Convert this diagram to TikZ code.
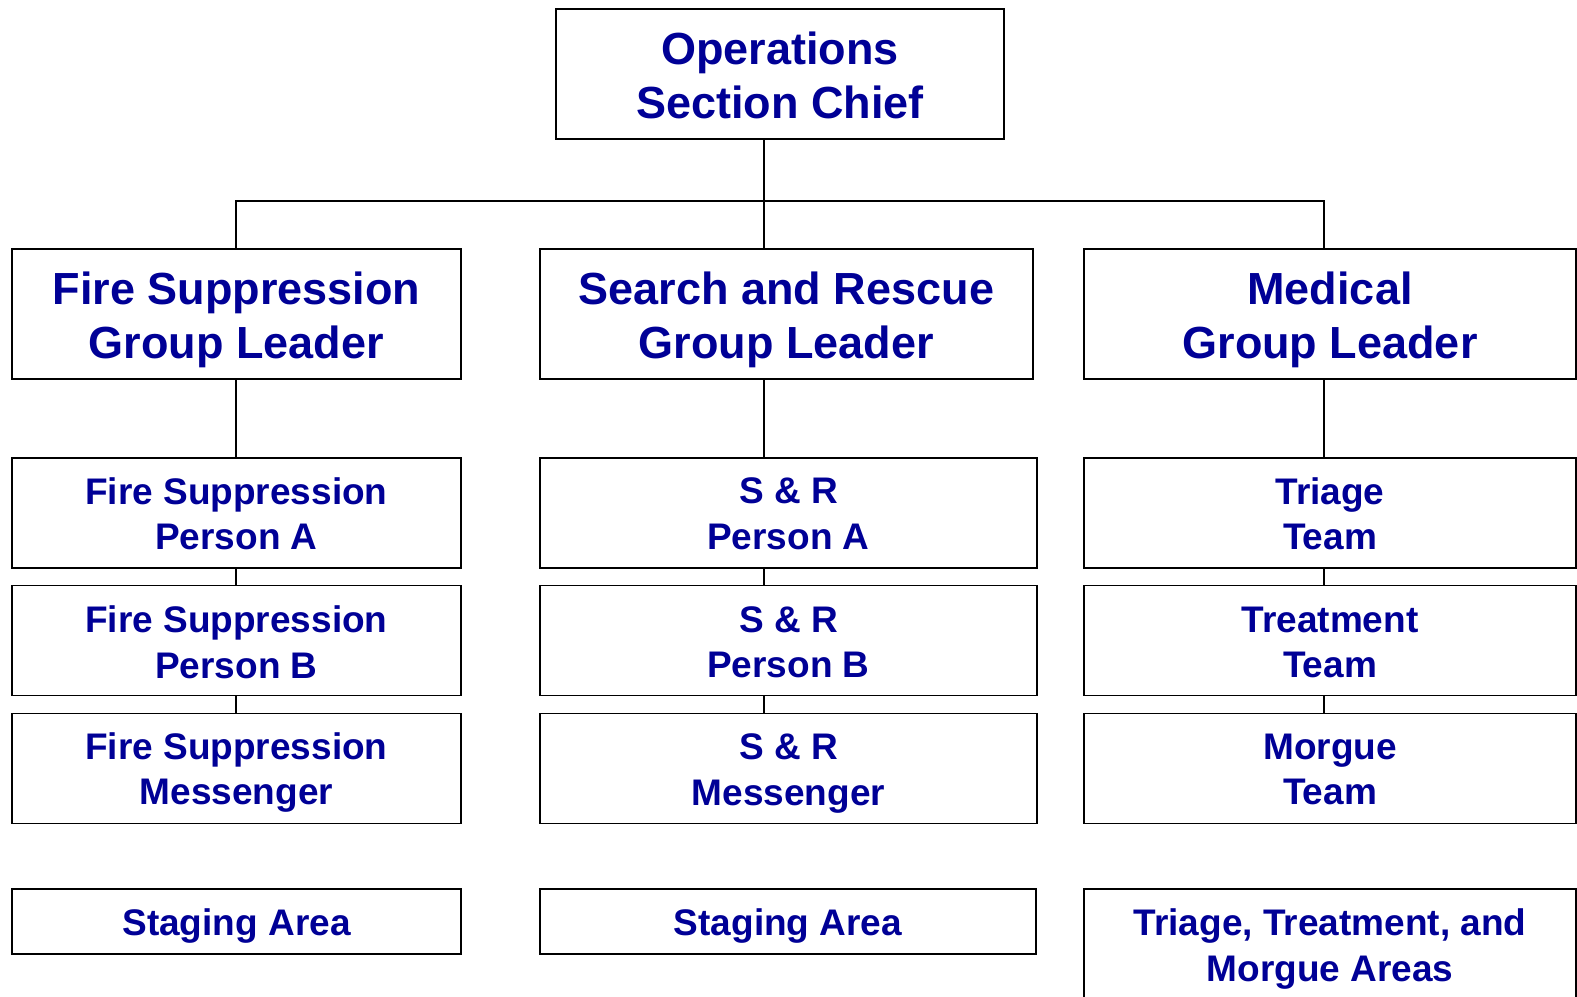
\documentclass[tikz,border=0pt]{standalone}
\usepackage{fontspec}
\setmainfont{Liberation Sans}
\definecolor{txtblue}{RGB}{0,0,150}
\begin{document}
\begin{tikzpicture}[x=1pt,y=-1pt,
  box/.style={draw=black,line width=1.8pt,rectangle,inner sep=0pt},
  big/.style={text=txtblue,align=center,inner sep=0pt,font=\fontsize{45}{54}\selectfont\bfseries},
  small/.style={text=txtblue,align=center,inner sep=0pt,font=\fontsize{37}{45.5}\selectfont\bfseries},
  conn/.style={line width=1.8pt,draw=black}]
\useasboundingbox (0,0) rectangle (1577,996);
% top
\node[box,minimum width=448pt,minimum height=130pt] (top) at (780,74) {};
\node[big] (topT) at ([yshift=-1pt]top.center) {Operations\\Section Chief};
% group leaders
\node[box,minimum width=449pt,minimum height=130pt] (glF) at (236.5,314) {};
\node[box,minimum width=493pt,minimum height=130pt] (glS) at (786.5,314) {};
\node[box,minimum width=492pt,minimum height=130pt] (glM) at (1330,314) {};
\node[big] (glFT) at ([yshift=-6pt]glF.center) {Fire Suppression\\Group Leader};
\node[big] (glST) at ([yshift=-6pt]glS.center) {Search and Rescue\\Group Leader};
\node[big] (glMT) at ([yshift=-6pt]glM.center) {Medical\\Group Leader};
% column coordinates
\coordinate (cF) at (236,201);
\coordinate (cS) at (764,201);
\coordinate (cM) at (1324,201);
% fire column
\node[box,minimum width=449pt,minimum height=110pt] (f1) at (236.5,513) {};
\node[box,minimum width=449pt,minimum height=110pt] (f2) at (236.5,640.5) {};
\node[box,minimum width=449pt,minimum height=110pt] (f3) at (236.5,768.5) {};
\node[box,minimum width=449pt,minimum height=65pt] (f4) at (236.5,921.5) {};
\node[small] (f1T) at ([yshift=-1pt]f1.center) {Fire Suppression\\Person A};
\node[small] (f2T) at ([yshift=-2pt]f2.center) {Fire Suppression\\Person B};
\node[small] (f3T) at ([yshift=-4pt]f3.center) {Fire Suppression\\Messenger};
\node[small] (f4T) at ([yshift=-5pt]f4.center) {Staging Area};
% S&R column
\node[box,minimum width=497pt,minimum height=110pt] (s1) at (788.5,513) {};
\node[box,minimum width=497pt,minimum height=110pt] (s2) at (788.5,640.5) {};
\node[box,minimum width=497pt,minimum height=110pt] (s3) at (788.5,768.5) {};
\node[box,minimum width=496pt,minimum height=65pt] (s4) at (788,921.5) {};
\node[small] (s1T) at ([yshift=-1pt]s1.center) {S \& R\\Person A};
\node[small] (s2T) at ([yshift=-2pt]s2.center) {S \& R\\Person B};
\node[small] (s3T) at ([yshift=-5pt]s3.center) {S \& R\\Messenger};
\node[small] (s4T) at ([yshift=-5pt]s4.center) {Staging Area};
% medical column
\node[box,minimum width=492pt,minimum height=110pt] (m1) at (1330,513) {};
\node[box,minimum width=492pt,minimum height=110pt] (m2) at (1330,640.5) {};
\node[box,minimum width=492pt,minimum height=110pt] (m3) at (1330,768.5) {};
\node[box,minimum width=492pt,minimum height=114pt] (m4) at (1330,946) {};
\node[small] (m1T) at ([yshift=-1pt]m1.center) {Triage\\Team};
\node[small] (m2T) at ([yshift=-2pt]m2.center) {Treatment\\Team};
\node[small] (m3T) at ([yshift=-1pt]m3.center) {Morgue\\Team};
\node[small] (m4T) at ([yshift=-3pt]m4.center) {Triage, Treatment, and\\Morgue Areas};
% connectors
\draw[conn] (cS |- top.south) -- (cS);
\draw[conn] (cF |- glF.north) -- (cF) -- (cM) -- (cM |- glM.north);
\draw[conn] (cS) -- (cS |- glS.north);
\draw[conn] (cF |- glF.south) -- (cF |- f1.north);
\draw[conn] (cF |- f1.south) -- (cF |- f2.north);
\draw[conn] (cF |- f2.south) -- (cF |- f3.north);
\draw[conn] (cS |- glS.south) -- (cS |- s1.north);
\draw[conn] (cS |- s1.south) -- (cS |- s2.north);
\draw[conn] (cS |- s2.south) -- (cS |- s3.north);
\draw[conn] (cM |- glM.south) -- (cM |- m1.north);
\draw[conn] (cM |- m1.south) -- (cM |- m2.north);
\draw[conn] (cM |- m2.south) -- (cM |- m3.north);
\end{tikzpicture}
\end{document}
